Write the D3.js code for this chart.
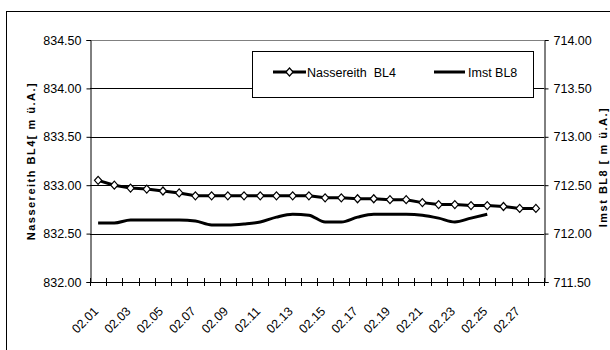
<!DOCTYPE html>
<html>
<head>
<meta charset="utf-8">
<script src="https://cdn.jsdelivr.net/npm/d3@7/dist/d3.min.js"></script>
<style>
  html, body { margin: 0; padding: 0; background: #fff; }
  svg text { font-family: "Liberation Sans", Arial, sans-serif; fill: #000; }
</style>
</head>
<body>
<svg id="chart" width="610" height="350"></svg>
<script>
// Daily water levels (m ü.A.) for two gauges, February
const dates = ["02.01","02.02","02.03","02.04","02.05","02.06","02.07","02.08","02.09","02.10",
               "02.11","02.12","02.13","02.14","02.15","02.16","02.17","02.18","02.19","02.20",
               "02.21","02.22","02.23","02.24","02.25","02.26","02.27","02.28"];
const nassereith = [833.05, 833.00, 832.97, 832.96, 832.94, 832.92, 832.89, 832.89, 832.89, 832.89,
                    832.89, 832.89, 832.89, 832.89, 832.87, 832.87, 832.86, 832.86, 832.85, 832.85,
                    832.82, 832.80, 832.80, 832.79, 832.79, 832.78, 832.76, 832.76];
const imst = [712.11, 712.11, 712.14, 712.14, 712.14, 712.14, 712.13, 712.09, 712.09, 712.10,
              712.12, 712.17, 712.20, 712.19, 712.12, 712.12, 712.17, 712.20, 712.20, 712.20,
              712.19, 712.16, 712.12, 712.16, 712.20, null, null, null];
const leftTicks = [832.00, 832.50, 833.00, 833.50, 834.00, 834.50];
const rightTicks = [711.50, 712.00, 712.50, 713.00, 713.50, 714.00];
const xLabels = dates.filter((d, i) => i % 2 === 0);

const svg = d3.select("#chart");
const plot = { left: 90, right: 544, top: 40, bottom: 282 };

// outer chart frame
svg.append("rect").attr("x", 6.5).attr("y", 11.5).attr("width", 700).attr("height", 400)
  .attr("fill", "#fff").attr("stroke", "#000").attr("stroke-width", 1);

const x = d3.scaleBand().domain(dates).range([plot.left, plot.right]).paddingInner(0).paddingOuter(0);
const yL = d3.scaleLinear().domain([832.0, 834.5]).range([plot.bottom, plot.top]);
const yR = d3.scaleLinear().domain([711.5, 714.0]).range([plot.bottom, plot.top]);
const cx = d => x(d) + x.bandwidth() / 2;

// horizontal gridlines
svg.append("g").selectAll("line").data(leftTicks.slice(1, -1)).join("line")
  .attr("x1", plot.left).attr("x2", plot.right)
  .attr("y1", d => Math.round(yL(d)) + 0.5).attr("y2", d => Math.round(yL(d)) + 0.5)
  .attr("stroke", "#000").attr("stroke-width", 1);
// plot area top edge
svg.append("line").attr("x1", plot.left).attr("x2", plot.right)
  .attr("y1", plot.top + 0.5).attr("y2", plot.top + 0.5)
  .attr("stroke", "#808080").attr("stroke-width", 1);

// left axis
const axL = svg.append("g").attr("transform", `translate(${plot.left + 0.5},0)`)
  .call(d3.axisLeft(yL).tickValues(leftTicks).tickFormat(d3.format(".2f")).tickSize(4).tickPadding(5));
// right axis
const axR = svg.append("g").attr("transform", `translate(${plot.right + 0.5},0)`)
  .call(d3.axisRight(yR).tickValues(rightTicks).tickFormat(d3.format(".2f")).tickSize(4).tickPadding(5));
[axL, axR].forEach(a => {
  a.select(".domain").attr("stroke", "#000");
  a.selectAll(".tick line").attr("stroke", "#000");
  a.selectAll(".tick text").attr("font-size", 12.5).attr("font-family", "Liberation Sans, Arial, sans-serif");
});

// x axis with crossing tick marks at category boundaries
const xAxis = svg.append("g");
xAxis.append("line").attr("x1", plot.left).attr("x2", plot.right + 1)
  .attr("y1", plot.bottom + 0.5).attr("y2", plot.bottom + 0.5).attr("stroke", "#000");
const boundaries = dates.map(d => x(d)).concat([plot.right]);
xAxis.selectAll("line.tk").data(boundaries).join("line").attr("class", "tk")
  .attr("x1", d => Math.round(d) + 0.5).attr("x2", d => Math.round(d) + 0.5)
  .attr("y1", plot.bottom - 4).attr("y2", plot.bottom + 4).attr("stroke", "#000");
xAxis.selectAll("text").data(xLabels).join("text")
  .attr("transform", d => `translate(${cx(d) + 1},${plot.bottom + 30}) rotate(-45)`)
  .attr("text-anchor", "end").attr("font-size", 12.5).text(d => d);

// series: Imst BL8 (right axis)
const lineR = d3.line().defined(d => d.v != null).x(d => cx(d.d)).y(d => yR(d.v)).curve(d3.curveMonotoneX);
svg.append("path").datum(dates.map((d, i) => ({ d, v: imst[i] })))
  .attr("d", lineR).attr("fill", "none").attr("stroke", "#000").attr("stroke-width", 3)
  .attr("stroke-linejoin", "round");

// series: Nassereith BL4 (left axis)
const lineL = d3.line().x(d => cx(d.d)).y(d => yL(d.v));
const nData = dates.map((d, i) => ({ d, v: nassereith[i] }));
svg.append("path").datum(nData)
  .attr("d", lineL).attr("fill", "none").attr("stroke", "#000").attr("stroke-width", 3)
  .attr("stroke-linejoin", "round");
const diamond = "M0,-4L3.6,0L0,4L-3.6,0Z";
svg.append("g").selectAll("path").data(nData).join("path")
  .attr("transform", d => `translate(${cx(d.d)},${yL(d.v)})`)
  .attr("d", diamond).attr("fill", "#fff").attr("stroke", "#000").attr("stroke-width", 1.2);

// legend
const lg = svg.append("g");
lg.append("rect").attr("x", 252.5).attr("y", 51.5).attr("width", 281).attr("height", 46)
  .attr("fill", "#fff").attr("stroke", "#000");
lg.append("line").attr("x1", 273).attr("x2", 306).attr("y1", 72).attr("y2", 72)
  .attr("stroke", "#000").attr("stroke-width", 3);
lg.append("path").attr("transform", "translate(289.5,72)").attr("d", diamond)
  .attr("fill", "#fff").attr("stroke", "#000").attr("stroke-width", 1.2);
lg.append("text").attr("x", 307).attr("y", 76.5).attr("font-size", 12.5)
  .attr("xml:space", "preserve").style("white-space", "pre").text("Nassereith  BL4");
lg.append("line").attr("x1", 434).attr("x2", 465).attr("y1", 72).attr("y2", 72)
  .attr("stroke", "#000").attr("stroke-width", 3);
lg.append("text").attr("x", 468).attr("y", 76.5).attr("font-size", 12.5).text("Imst BL8");

// axis titles
svg.append("text").attr("transform", `translate(35,${(plot.top + plot.bottom) / 2}) rotate(-90)`)
  .attr("text-anchor", "middle").attr("font-size", 11).attr("font-weight", "bold")
  .attr("letter-spacing", 1.5).text("Nassereith BL4[ m ü.A.]");
svg.append("text").attr("transform", `translate(607,167) rotate(-90)`)
  .attr("text-anchor", "middle").attr("font-size", 11).attr("font-weight", "bold")
  .attr("letter-spacing", 1.5).text("Imst BL8 [ m ü.A.]");
</script>
</body>
</html>
